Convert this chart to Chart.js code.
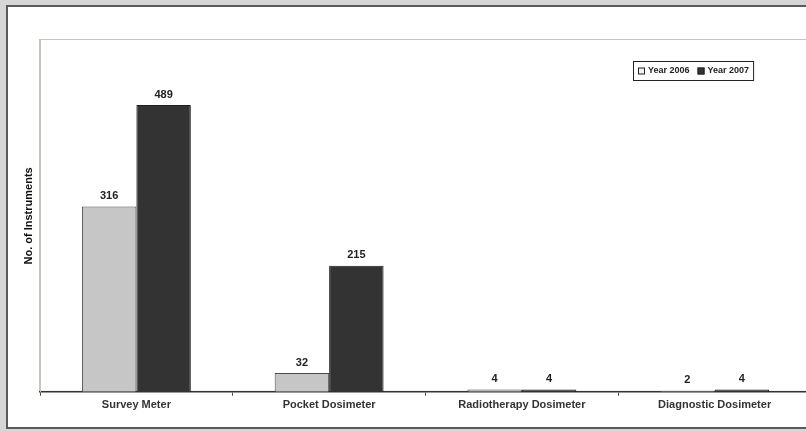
<!DOCTYPE html>
<html>
<head>
<meta charset="utf-8">
<script src="https://cdn.jsdelivr.net/npm/chart.js@4.4.0/dist/chart.umd.min.js"></script>
<style>
  html, body { margin: 0; padding: 0; overflow: hidden; background: #d6d6d6; width: 806px; height: 431px; }
  #frame { position: absolute; left: 6px; top: 5px; width: 820px; height: 420px; border: 2px solid #5a5a5a; background: #fff; }
  #myChart { position: absolute; left: 0; top: 0; }
</style>
</head>
<body>
<div id="frame"></div>
<canvas id="myChart" width="820" height="431"></canvas>
<script>
// datos
const categorias = ["Survey Meter", "Pocket Dosimeter", "Radiotherapy Dosimeter", "Diagnostic Dosimeter"];
const anios = ["Year 2006", "Year 2007"];
const valores2006 = [316, 32, 4, 2];
const valores2007 = [489, 215, 4, 4];
const tituloY = "No. of Instruments";

const fuente = "'Liberation Sans', Arial, sans-serif";

// caja del area de grafico (borde claro)
const cajaArea = {
  id: 'cajaArea',
  beforeDraw(chart) {
    const a = chart.chartArea, ctx = chart.ctx;
    ctx.save();
    ctx.strokeStyle = '#c9c2bd';
    ctx.lineWidth = 1;
    ctx.strokeRect(a.left - 0.5, a.top - 0.5, a.right - a.left + 20, a.bottom - a.top);
    ctx.restore();
  }
};

// numeros encima de las barras
const etiquetas = {
  id: 'etiquetas',
  afterDatasetsDraw(chart) {
    const ctx = chart.ctx;
    ctx.save();
    ctx.font = "bold 11px " + fuente;
    ctx.fillStyle = '#222';
    ctx.textAlign = 'center';
    ctx.textBaseline = 'bottom';
    chart.data.datasets.forEach((ds, i) => {
      chart.getDatasetMeta(i).data.forEach((bar, j) => {
        ctx.fillText(ds.data[j], bar.x, bar.y - 5);
      });
    });
    ctx.restore();
  }
};

// leyenda dentro del area
const leyenda = {
  id: 'leyenda',
  afterDraw(chart) {
    const a = chart.chartArea, ctx = chart.ctx;
    const x0 = 633, y0 = a.top + 21, h = 19;
    ctx.save();
    ctx.font = "bold 9px " + fuente;
    ctx.textBaseline = 'middle';
    let x = x0 + 5;
    const items = [];
    chart.data.datasets.forEach(ds => {
      items.push({ x: x, ds: ds });
      x += 10 + ctx.measureText(ds.label).width + 8;
    });
    const w = x - x0 - 4;
    ctx.fillStyle = '#fff';
    ctx.fillRect(x0, y0, w, h);
    ctx.strokeStyle = '#222';
    ctx.lineWidth = 1;
    ctx.strokeRect(x0 + 0.5, y0 + 0.5, w, h);
    items.forEach(it => {
      const cy = y0 + h / 2 + 0.5;
      ctx.fillStyle = it.ds.legendFill;
      ctx.fillRect(it.x, cy - 3.5, 7, 7);
      ctx.strokeStyle = '#222';
      ctx.strokeRect(it.x + 0.5, cy - 3.5 + 0.5, 6, 6);
      ctx.fillStyle = '#222';
      ctx.fillText(it.ds.label, it.x + 10, cy);
    });
    ctx.restore();
  }
};

new Chart("myChart", {
  type: "bar",
  data: {
    labels: categorias,
    datasets: [{
      label: anios[0],
      data: valores2006,
      backgroundColor: '#c6c6c6',
      borderColor: '#4a4a4a',
      borderWidth: 1,
      legendFill: '#f2f2f2'
    }, {
      label: anios[1],
      data: valores2007,
      backgroundColor: '#333333',
      borderColor: '#1e1e1e',
      borderWidth: 1,
      legendFill: '#333333'
    }]
  },
  options: {
    responsive: false,
    animation: false,
    devicePixelRatio: 1,
    datasets: { bar: { categoryPercentage: 0.565, barPercentage: 1 } },
    layout: { padding: { left: 22, top: 40, right: 9, bottom: 16 } },
    plugins: { legend: { display: false }, tooltip: { enabled: false } },
    scales: {
      x: {
        grid: { display: true, drawOnChartArea: false, drawTicks: true, tickLength: 4, color: '#555' },
        border: { color: '#333', width: 1.5 },
        ticks: { color: '#333', padding: 3, font: { family: fuente, size: 11, weight: 'bold' } }
      },
      y: {
        min: 0,
        max: 600,
        grid: { display: false },
        border: { color: '#c9c2bd', width: 1 },
        ticks: { display: false },
        title: { display: true, text: tituloY, color: '#111', padding: 0, font: { family: fuente, size: 11, weight: 'bold' } },
        afterFit(axis) { axis.width = 18; }
      }
    }
  },
  plugins: [cajaArea, etiquetas, leyenda]
});
</script>
</body>
</html>
